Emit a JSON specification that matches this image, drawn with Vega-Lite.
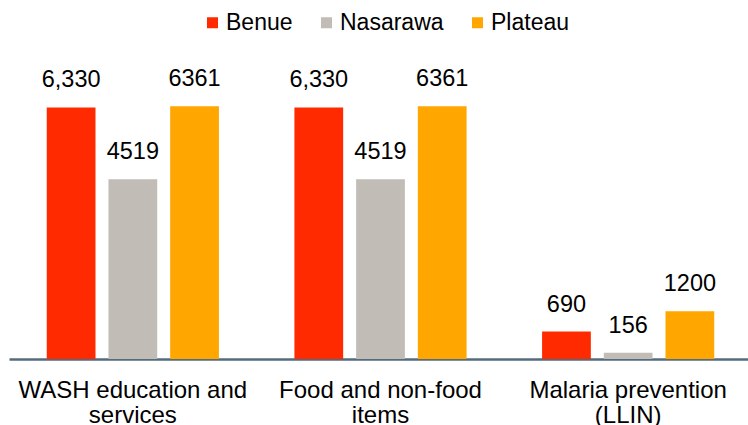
{
  "$schema": "https://vega.github.io/schema/vega-lite/v6.json",
  "autosize": "none",
  "width": 743,
  "height": 318,
  "padding": {"left": 9, "top": 41, "right": 0, "bottom": 66},
  "background": "white",
  "config": {
    "view": {"stroke": null},
    "font": "Liberation Sans"
  },
  "data": {
    "values": [
      {"category": "WASH education and services", "state": "Benue", "value": 6330, "label": "6,330"},
      {"category": "WASH education and services", "state": "Nasarawa", "value": 4519, "label": "4519"},
      {"category": "WASH education and services", "state": "Plateau", "value": 6361, "label": "6361"},
      {"category": "Food and non-food items", "state": "Benue", "value": 6330, "label": "6,330"},
      {"category": "Food and non-food items", "state": "Nasarawa", "value": 4519, "label": "4519"},
      {"category": "Food and non-food items", "state": "Plateau", "value": 6361, "label": "6361"},
      {"category": "Malaria prevention (LLIN)", "state": "Benue", "value": 690, "label": "690"},
      {"category": "Malaria prevention (LLIN)", "state": "Nasarawa", "value": 156, "label": "156"},
      {"category": "Malaria prevention (LLIN)", "state": "Plateau", "value": 1200, "label": "1200"}
    ]
  },
  "encoding": {
    "x": {
      "field": "category",
      "type": "nominal",
      "sort": ["WASH education and services", "Food and non-food items", "Malaria prevention (LLIN)"],
      "scale": {"paddingInner": 0.25, "paddingOuter": 0.125},
      "axis": {
        "title": null,
        "labelAngle": 0,
        "labelFont": "Liberation Sans",
        "labelFontSize": 24,
        "labelColor": "#000000",
        "labelLineHeight": 25,
        "labelPadding": 19,
        "labelLimit": 400,
        "ticks": false,
        "tickSize": 0,
        "domainColor": "#546B7E",
        "domainWidth": 2.5,
        "grid": false,
        "labelExpr": "datum.value == 'WASH education and services' ? ['WASH education and', 'services'] : datum.value == 'Food and non-food items' ? ['Food and non-food', 'items'] : ['Malaria prevention', '(LLIN)']"
      }
    },
    "xOffset": {
      "field": "state",
      "type": "nominal",
      "sort": ["Benue", "Nasarawa", "Plateau"],
      "scale": {"paddingInner": 0.21, "paddingOuter": 0.11}
    },
    "y": {
      "field": "value",
      "type": "quantitative",
      "scale": {"domain": [0, 8000], "nice": false},
      "axis": null
    }
  },
  "layer": [
    {
      "mark": {"type": "bar"},
      "encoding": {
        "color": {
          "field": "state",
          "type": "nominal",
          "sort": ["Benue", "Nasarawa", "Plateau"],
          "scale": {"domain": ["Benue", "Nasarawa", "Plateau"], "range": ["#FF2A00", "#C1BCB6", "#FFA600"]},
          "legend": {
            "title": null,
            "orient": "none",
            "direction": "horizontal",
            "legendX": 192,
            "legendY": -30,
            "padding": 0,
            "symbolType": "square",
            "symbolSize": 121,
            "symbolStrokeWidth": 0,
            "symbolOpacity": 1,
            "labelFont": "Liberation Sans",
            "labelFontSize": 23,
            "labelColor": "#000000",
            "labelOffset": 2,
            "labelLimit": 300,
            "columnPadding": 22
          }
        }
      }
    },
    {
      "mark": {"type": "text", "baseline": "alphabetic", "dy": -20, "fontSize": 23.5, "font": "Liberation Sans", "color": "#000000"},
      "encoding": {
        "text": {"field": "label", "type": "nominal"}
      }
    }
  ]
}
